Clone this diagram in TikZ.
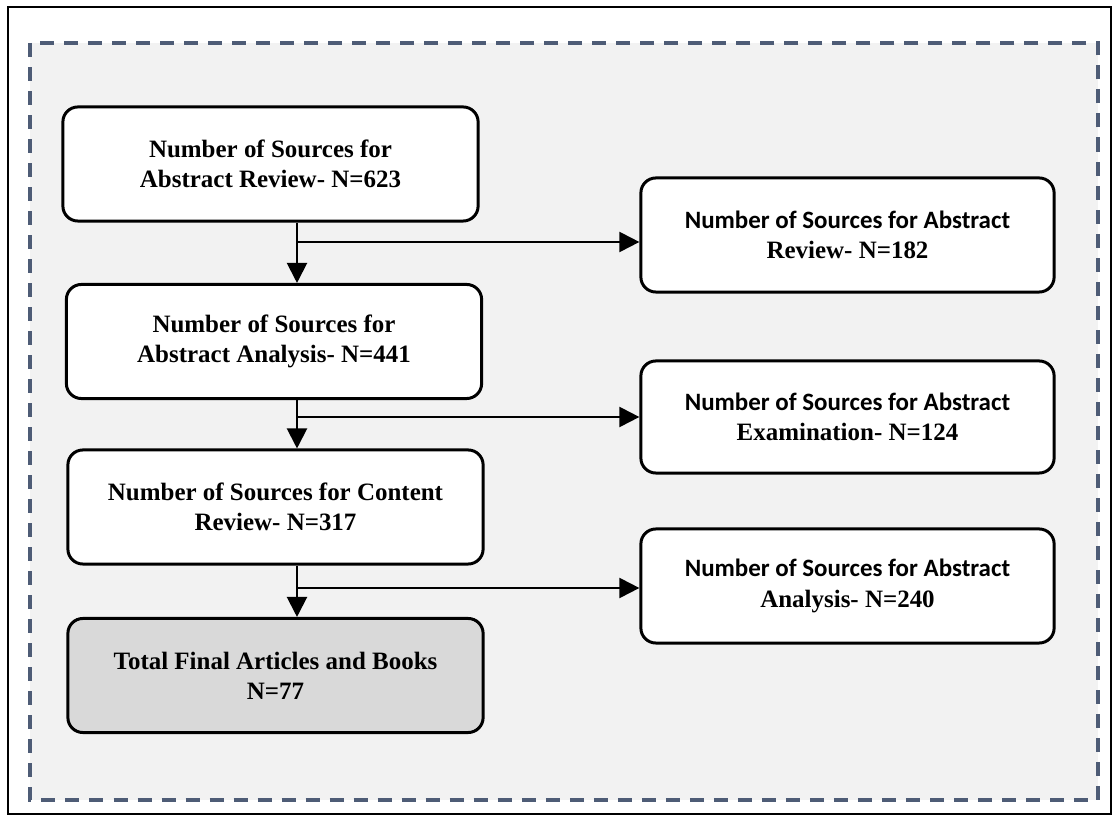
\documentclass[tikz,border=0pt]{standalone}
\usepackage{fontspec}
\setmainfont{Liberation Serif}
\newfontfamily\calibri{Carlito}
\usetikzlibrary{arrows.meta,positioning}
\definecolor{frameblue}{RGB}{78,92,118}
\definecolor{panel}{RGB}{242,242,242}
\definecolor{finalgray}{RGB}{217,217,217}

\begin{document}
\begin{tikzpicture}[x=0.01cm,y=-0.01cm,
		box/.style={draw, line width=0.85pt, rounded corners=0.15cm, fill=white,
			minimum width=4.15cm, minimum height=1.14cm, align=center, inner sep=0pt,
			font=\fontsize{7.1}{8.6}\selectfont\bfseries},
		flow/.style={-{Triangle[length=0.2cm,width=0.2cm]}, line width=0.6pt}]
			\useasboundingbox (0,0) rectangle (1115,819);
			\draw[line width=0.6pt] (8,7) rectangle (1111,814);
			\draw[frameblue, fill=panel, line width=1.1pt, dash pattern=on 0.14cm off 0.1cm] (30,43) rectangle (1098,800);
			
			\node[box] (N623) at (270.5,164) {Number of Sources for\\Abstract Review- N=623};
			\node[box] (N441) at (274,341.5) {Number of Sources for\\Abstract Analysis- N=441};
			\node[box] (N317) at (275.5,507) {Number of Sources for Content\\Review- N=317};
			\node[box, fill=finalgray] (N77) at (275.5,675.5) {Total Final Articles and Books\\N=77};
			
			\node[box, minimum width=4.13cm] (N182) at (847.5,235) {\calibri Number of Sources for Abstract\\Review- {\rmfamily N=182}};
			\node[box, minimum width=4.13cm, minimum height=1.12cm] (N124) at (847.5,417) {\calibri Number of Sources for Abstract\\Examination- {\rmfamily N=124}};
			\node[box, minimum width=4.13cm] (N240) at (847.5,586) {\calibri Number of Sources for Abstract\\Analysis- {\rmfamily N=240}};
			
			\coordinate (J1) at (297,242);
			\coordinate (J2) at (297,417);
			\coordinate (J3) at (297,588);
			
			\draw[flow] (N623.south -| J1) -- (N441.north -| J1);
			\draw[flow] (N441.south -| J2) -- (N317.north -| J2);
			\draw[flow] (N317.south -| J3) -- (N77.north -| J3);
			
			\draw[flow] (J1) -- (J1 -| N182.west);
			\draw[flow] (J2) -- (J2 -| N124.west);
			\draw[flow] (J3) -- (J3 -| N240.west);
		\end{tikzpicture}
\end{document}
